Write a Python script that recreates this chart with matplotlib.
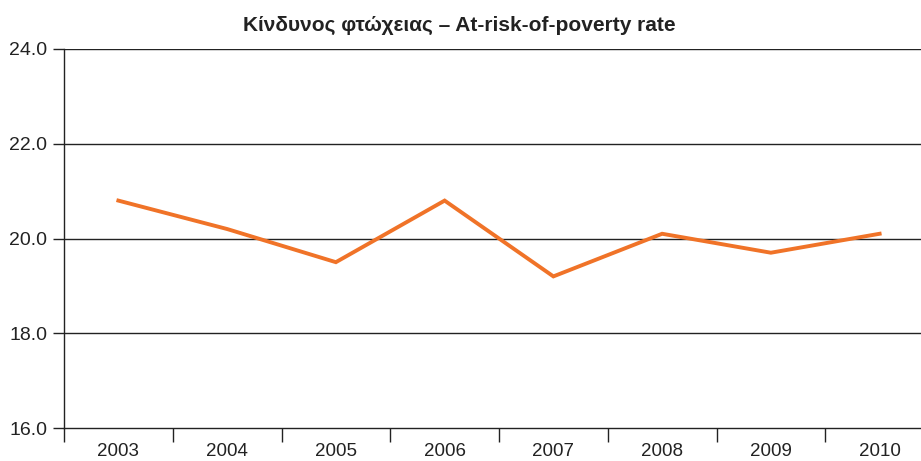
import matplotlib
matplotlib.use("Agg")
import matplotlib.pyplot as plt
import numpy as np

years = ["2003", "2004", "2005", "2006", "2007", "2008", "2009", "2010"]
rate = [20.8, 20.2, 19.5, 20.8, 19.2, 20.1, 19.7, 20.1]
yticks = [16.0, 18.0, 20.0, 22.0, 24.0]
title = "Κίνδυνος φτώχειας – At-risk-of-poverty rate"

plt.rcParams['font.family'] = ['Liberation Sans', 'DejaVu Sans']

fig = plt.figure(figsize=(9.21, 4.61), dpi=100)
ax = fig.add_axes([64/921, 33/461, (934-64)/921, (428-49)/461])

x = np.arange(len(years))
ax.plot(x, rate, color='#F07328', lw=2.8, solid_joinstyle='miter', zorder=3)

ax.set_xlim(-0.5, len(years) - 0.5)
ax.set_ylim(16, 24)
ax.set_yticks(yticks)
ax.set_yticklabels([f"{v:.1f}" for v in yticks], fontsize=14, color='#222222')
for v in yticks[1:]:
    ax.axhline(v, color='#222222', lw=1.0, zorder=1)

ax.set_xticks(x)
ax.set_xticklabels(years, fontsize=13.5, color='#222222')
ax.tick_params(axis='x', which='major', length=0, pad=11)
ax.set_xticks(np.arange(-0.5, len(years)), minor=True)
ax.tick_params(axis='x', which='minor', length=10, width=1.0, color='#222222', direction='out')
ax.tick_params(axis='y', length=8, width=1.0, color='#222222', pad=4)

for s in ['top', 'right']:
    ax.spines[s].set_visible(False)
for s in ['left', 'bottom']:
    ax.spines[s].set_color('#222222')
    ax.spines[s].set_linewidth(1.0)

fig.text(0.4985, 1 - 25/461, title, ha='center', va='center', fontsize=15,
         fontweight='bold', color='#222222')

fig.savefig('out.png', dpi=100)
